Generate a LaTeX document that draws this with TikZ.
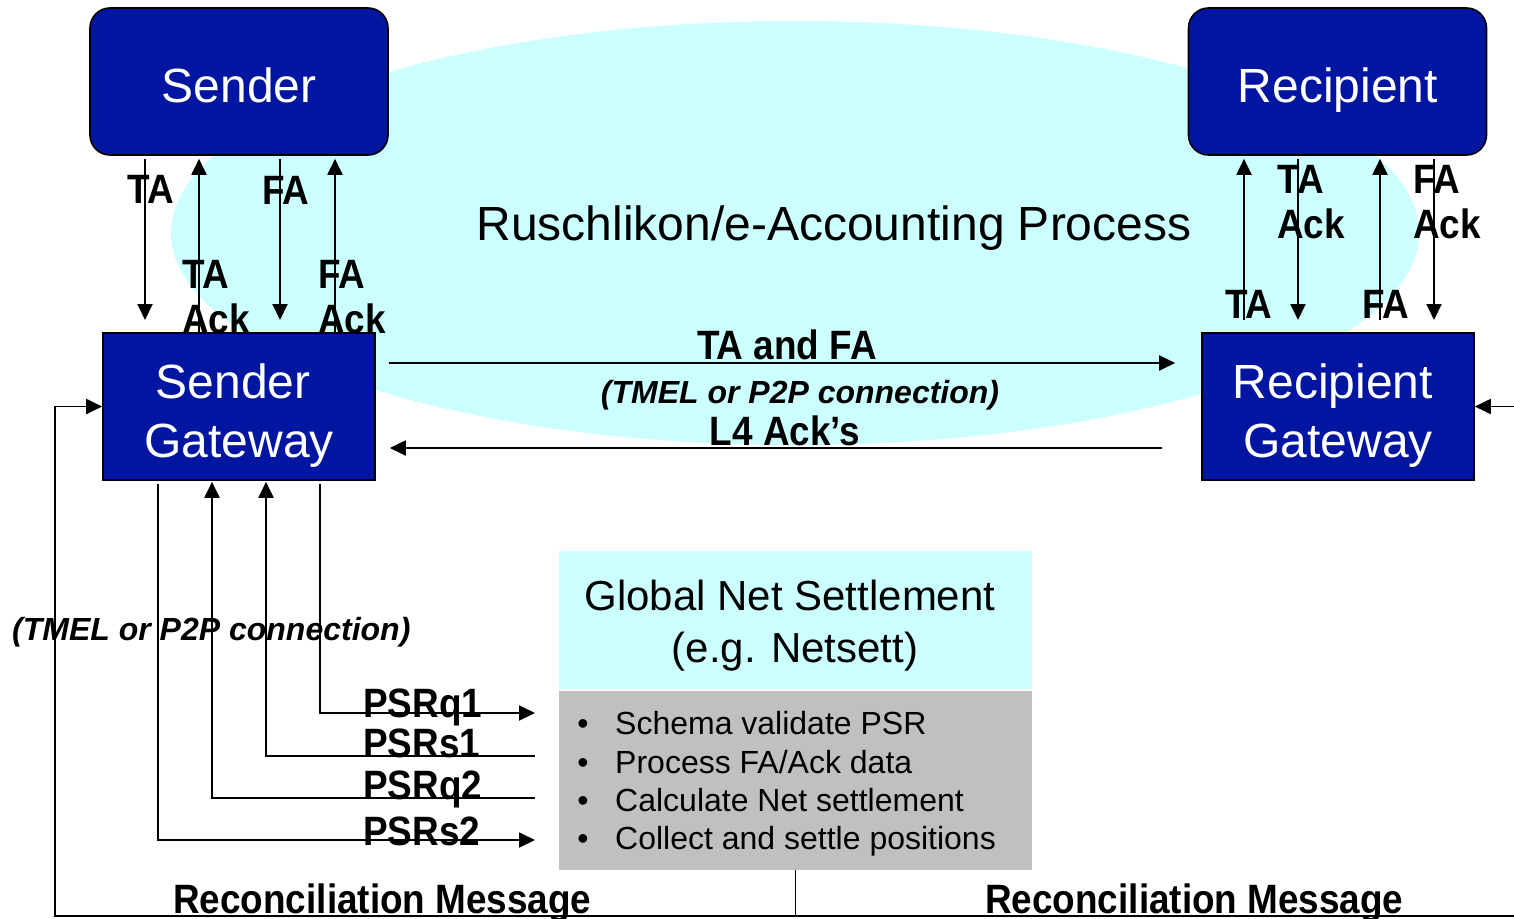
\documentclass[tikz,border=0pt]{standalone}
\usepackage{fontspec}
\setmainfont{Liberation Sans}
\newfontfamily\condsans[FakeStretch=0.9]{Liberation Sans}
\usetikzlibrary{arrows.meta,shapes.geometric}

\definecolor{boxblue}{RGB}{0,22,160}
\definecolor{skycyan}{RGB}{204,255,255}
\definecolor{panelgrey}{RGB}{192,192,192}
\newcommand{\setfs}[2]{\fontsize{#1}{#2}\selectfont}

\begin{document}
\begin{tikzpicture}[x=1pt,y=-1pt,
  wire/.style={line width=1.9pt},
  arr/.style={line width=1.9pt,-{Triangle[length=16pt,width=15pt]}},
  roundbox/.style={draw=black,line width=1.6pt,fill=boxblue,rounded corners=20pt,
    minimum width=298pt,minimum height=147pt,inner sep=0pt},
  gwbox/.style={draw=black,line width=1.6pt,fill=boxblue,
    minimum width=272pt,minimum height=147pt,inner sep=0pt},
  boxtext/.style={text=white,font=\setfs{48}{58},anchor=base,inner sep=0pt},
  lbl/.style={font=\condsans\bfseries\setfs{41}{48},anchor=base,inner sep=0pt},
  lblw/.style={lbl,anchor=base west},
  itl/.style={font=\bfseries\itshape\setfs{32}{40},anchor=base,inner sep=0pt},
  gnstext/.style={font=\setfs{42}{52},anchor=base,inner sep=0pt},
  bullettext/.style={font=\setfs{32}{38},anchor=base west,inner sep=0pt},
  bulletdot/.style={font=\setfs{32}{38},anchor=base,inner sep=0pt}
]
\useasboundingbox (0,0) rectangle (1514,918);

% shared process area
\node[ellipse,fill=skycyan,minimum width=1248pt,minimum height=424pt,inner sep=0pt]
  (process) at (795,233) {};
\node[font=\setfs{48}{58},anchor=base,inner sep=0pt] (processT) at (834,240)
  {Ruschlikon/e-Accounting Process};

% labels on the sender side
\node[lbl] (sTA) at (151,203) {TA};
\node[lbl] (sFA) at (286,204) {FA};
\node[lblw] (sTAack1) at (182,288) {TA};
\node[lblw] (sTAack2) at (182,333) {Ack};
\node[lblw] (sFAack1) at (318,288) {FA};
\node[lblw] (sFAack2) at (318,333) {Ack};

% labels on the recipient side
\node[lblw] (rTAack1) at (1277,193) {TA};
\node[lblw] (rTAack2) at (1277,238) {Ack};
\node[lblw] (rFAack1) at (1413,193) {FA};
\node[lblw] (rFAack2) at (1413,238) {Ack};
\node[lbl] (rTA) at (1249,318) {TA};
\node[lbl] (rFA) at (1386,318) {FA};

% parties and gateways
\node[roundbox] (sender) at (239,81.5) {};
\node[boxtext] (senderT) at (239,102) {Sender};
\node[roundbox] (recipient) at (1337.5,81.5) {};
\node[boxtext] (recipientT) at (1338,102) {Recipient};
\node[gwbox] (sgw) at (239,406.5) {};
\node[boxtext] (sgwT1) at (233,398) {Sender};
\node[boxtext] (sgwT2) at (239,457) {Gateway};
\node[gwbox] (rgw) at (1338,406.5) {};
\node[boxtext] (rgwT1) at (1333,398) {Recipient};
\node[boxtext] (rgwT2) at (1338,457) {Gateway};

% sender <-> sender gateway
\coordinate (sTAend) at (145,320);
\coordinate (sFAend) at (280,320);
\coordinate (sTAackx) at (199,0);
\coordinate (sFAackx) at (335,0);
\draw[arr,shorten <=3pt] (sender.south -| sTAend) -- (sTAend);
\draw[arr,shorten <=3pt] (sender.south -| sFAend) -- (sFAend);
\draw[arr,shorten >=3pt] (sgw.north -| sTAackx) -- (sender.south -| sTAackx);
\draw[arr,shorten >=3pt] (sgw.north -| sFAackx) -- (sender.south -| sFAackx);

% recipient gateway <-> recipient
\coordinate (rTAstart) at (1244,320);
\coordinate (rFAstart) at (1380,320);
\coordinate (rTAackEnd) at (1298,320);
\coordinate (rFAackEnd) at (1434,320);
\draw[arr,shorten >=3pt] (rTAstart) -- (recipient.south -| rTAstart);
\draw[arr,shorten >=3pt] (rFAstart) -- (recipient.south -| rFAstart);
\draw[arr,shorten <=3pt] (recipient.south -| rTAackEnd) -- (rTAackEnd);
\draw[arr,shorten <=3pt] (recipient.south -| rFAackEnd) -- (rFAackEnd);

% gateway to gateway
\draw[arr,shorten <=13pt,shorten >=26pt] ([yshift=43.5pt]sgw.east) -- ([yshift=43.5pt]rgw.west);
\draw[arr,shorten <=39pt,shorten >=14pt] ([yshift=-41.5pt]rgw.west) -- ([yshift=-41.5pt]sgw.east);
\node[lbl] (taFA) at (787,359) {TA and FA};
\node[itl] (linkT) at (800,403) {(TMEL or P2P connection)};
\node[lbl] (l4) at (785,445) {L4 Ack’s};

% global net settlement
\node[fill=skycyan,minimum width=473pt,minimum height=138pt,inner sep=0pt]
  (gnsTop) at (795.5,620) {};
\node[fill=panelgrey,minimum width=473pt,minimum height=179pt,inner sep=0pt]
  (gnsBody) at (795.5,780.5) {};
\node[gnstext] (gnsT1) at (790,610) {Global Net Settlement};
\node[gnstext] (gnsT2) at (795,662) {(e.g. Netsett)};
\node[bulletdot] (b1) at (583,734) {•};
\node[bulletdot] (b2) at (583,773) {•};
\node[bulletdot] (b3) at (583,811) {•};
\node[bulletdot] (b4) at (583,849) {•};
\node[bullettext] (t1) at (615,734) {Schema validate PSR};
\node[bullettext] (t2) at (615,773) {Process FA/Ack data};
\node[bullettext] (t3) at (615,811) {Calculate Net settlement};
\node[bullettext] (t4) at (615,849) {Collect and settle positions};

% sender gateway <-> settlement
\node[itl,anchor=base west] (linkL) at (12,640) {(TMEL or P2P connection)};
\coordinate (q1turn) at (320,713);
\coordinate (q1end) at (535,713);
\coordinate (s1turn) at (266,756);
\coordinate (s1start) at (535,756);
\coordinate (q2turn) at (212,798);
\coordinate (q2start) at (535,798);
\coordinate (s2turn) at (158,840);
\coordinate (s2end) at (535,840);
\draw[arr,shorten <=3pt] (sgw.south -| q1turn) -- (q1turn) -- (q1end);
\draw[arr,shorten >=1pt] (s1start) -- (s1turn) -- (sgw.south -| s1turn);
\draw[arr,shorten >=1pt] (q2start) -- (q2turn) -- (sgw.south -| q2turn);
\draw[arr,shorten <=3pt] (sgw.south -| s2turn) -- (s2turn) -- (s2end);
\node[lblw] (psrq1) at (363,717) {PSRq1};
\node[lblw] (psrs1) at (363,757) {PSRs1};
\node[lblw] (psrq2) at (363,799) {PSRq2};
\node[lblw] (psrs2) at (363,845) {PSRs2};

% reconciliation loop
\coordinate (loopL) at (55,916);
\coordinate (loopR) at (1514,916);
\coordinate (rIn) at (1514,406.5);
\draw[wire] (gnsBody.south) -- (gnsBody.south |- loopL);
\draw[arr] (loopR) -- (loopL) |- (sgw.west);
\draw[arr] (rIn) -- (rgw.east);
\node[lblw] (recL) at (173,913) {Reconciliation Message};
\node[lblw] (recR) at (985,913) {Reconciliation Message};
\end{tikzpicture}
\end{document}
